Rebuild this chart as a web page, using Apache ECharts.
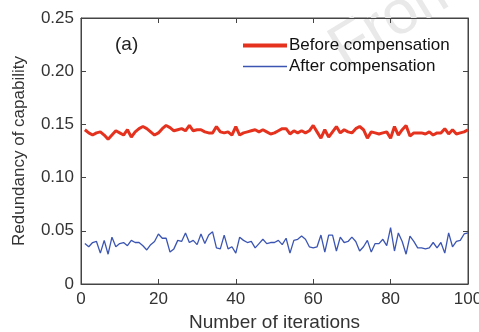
<!DOCTYPE html>
<html>
<head>
<meta charset="utf-8">
<script src="https://cdn.jsdelivr.net/npm/echarts@6/dist/echarts.min.js"></script>
<style>
  html, body { margin: 0; padding: 0; background: #fff; }
  #chart { width: 479px; height: 332px; }
</style>
</head>
<body>
<div id="chart"></div>
<script>
var iterations = [];
for (var i = 1; i <= 100; i++) iterations.push(i);

var beforeComp = [
  0.145, 0.142, 0.140, 0.142, 0.143, 0.140, 0.136, 0.140, 0.144, 0.142,
  0.140, 0.145, 0.138, 0.143, 0.146, 0.148, 0.146, 0.143, 0.140, 0.142,
  0.146, 0.149, 0.147, 0.144, 0.145, 0.146, 0.144, 0.149, 0.144, 0.145,
  0.145, 0.143, 0.142, 0.142, 0.148, 0.143, 0.142, 0.143, 0.140, 0.148,
  0.140, 0.142, 0.143, 0.144, 0.145, 0.143, 0.145, 0.143, 0.141, 0.142,
  0.144, 0.146, 0.146, 0.141, 0.144, 0.142, 0.144, 0.142, 0.144, 0.149,
  0.143, 0.137, 0.145, 0.138, 0.143, 0.148, 0.142, 0.145, 0.143, 0.142,
  0.146, 0.148, 0.145, 0.137, 0.143, 0.142, 0.141, 0.142, 0.143, 0.137,
  0.148, 0.140, 0.145, 0.149, 0.139, 0.142, 0.142, 0.142, 0.141, 0.143,
  0.140, 0.142, 0.142, 0.146, 0.141, 0.145, 0.141, 0.142, 0.143, 0.145
];

var afterComp = [
  0.038, 0.035, 0.039, 0.040, 0.029, 0.041, 0.028, 0.044, 0.035, 0.038,
  0.039, 0.036, 0.041, 0.039, 0.039, 0.036, 0.032, 0.037, 0.040, 0.047,
  0.043, 0.043, 0.030, 0.033, 0.041, 0.040, 0.048, 0.039, 0.041, 0.037,
  0.047, 0.038, 0.046, 0.049, 0.034, 0.033, 0.046, 0.033, 0.035, 0.029,
  0.044, 0.041, 0.039, 0.040, 0.034, 0.038, 0.042, 0.038, 0.039, 0.039,
  0.041, 0.037, 0.043, 0.029, 0.041, 0.042, 0.045, 0.042, 0.035, 0.034,
  0.035, 0.046, 0.030, 0.046, 0.046, 0.031, 0.044, 0.039, 0.040, 0.044,
  0.040, 0.031, 0.035, 0.041, 0.030, 0.038, 0.038, 0.042, 0.036, 0.053,
  0.031, 0.048, 0.040, 0.028, 0.045, 0.040, 0.034, 0.034, 0.033, 0.034,
  0.039, 0.034, 0.039, 0.029, 0.048, 0.035, 0.040, 0.041, 0.047, 0.048
];

var seriesNames = ['Before compensation', 'After compensation'];

function pairs(vals) {
  return iterations.map(function (x, k) { return [x, vals[k]]; });
}

var axisColor = '#444';
var font = 'Liberation Sans, Arial, sans-serif';

function frameX(pos) {
  return {
    type: 'value', min: 0, max: 100, interval: 20, position: pos,
    axisLine: { show: true, onZero: false, lineStyle: { color: axisColor, width: 1 } },
    axisTick: { show: true, inside: true, length: 5, lineStyle: { color: axisColor } },
    splitLine: { show: false }
  };
}
function frameY(pos) {
  return {
    type: 'value', min: 0, max: 0.25, interval: 0.05, position: pos,
    axisLine: { show: true, onZero: false, lineStyle: { color: axisColor, width: 1 } },
    axisTick: { show: true, inside: true, length: 5, lineStyle: { color: axisColor } },
    splitLine: { show: false }
  };
}

var xBottom = Object.assign(frameX('bottom'), {
  name: 'Number of iterations', nameLocation: 'middle', nameGap: 29,
  nameTextStyle: { fontSize: 19, color: '#333', fontFamily: font },
  axisLabel: { fontSize: 17, color: '#333', margin: 7, fontFamily: font }
});
var xTop = Object.assign(frameX('top'), { axisLabel: { show: false } });
var yLeft = Object.assign(frameY('left'), {
  name: 'Redundancy of capability', nameLocation: 'middle', nameGap: 53,
  nameTextStyle: { fontSize: 17, color: '#333', fontFamily: font },
  axisLabel: {
    fontSize: 17, color: '#333', margin: 7, fontFamily: font,
    formatter: function (v) { return v === 0 ? '0' : v.toFixed(2); }
  }
});
var yRight = Object.assign(frameY('right'), { axisLabel: { show: false } });

var option = {
  animation: false,
  backgroundColor: '#fff',
  textStyle: { fontFamily: font },
  grid: {
    left: 81, right: 11, top: 18, bottom: 48, containLabel: false,
    outerBoundsMode: 'none',
    show: true, borderColor: axisColor, borderWidth: 1, backgroundColor: 'transparent'
  },
  graphic: [
    {
      type: 'text', x: 352, y: 82, z: 0, rotation: 0.55,
      style: { text: 'From', font: '62px ' + font, fill: '#e9e9e9', verticalAlign: 'bottom' }
    },
    {
      type: 'text', left: 115, top: 35, z: 10,
      style: { text: '(a)', font: '19px ' + font, fill: '#222' }
    }
  ],
  legend: [
    {
      data: [seriesNames[0]], left: 238, top: 32, icon: 'rect',
      itemWidth: 44, itemHeight: 4, itemGap: 2,
      textStyle: { fontSize: 17, color: '#111', fontFamily: font, padding: [0, 0, 0, -3] }
    },
    {
      data: [seriesNames[1]], left: 238, top: 53, icon: 'rect',
      itemWidth: 44, itemHeight: 1.5, itemGap: 2,
      textStyle: { fontSize: 17, color: '#111', fontFamily: font, padding: [0, 0, 0, -3] }
    }
  ],
  xAxis: [xBottom, xTop],
  yAxis: [yLeft, yRight],
  series: [
    {
      name: seriesNames[0], type: 'line', data: pairs(beforeComp),
      xAxisIndex: 0, yAxisIndex: 0,
      symbol: 'none', color: '#e5321f',
      lineStyle: { width: 3, color: '#e5321f' }, z: 3
    },
    {
      name: seriesNames[1], type: 'line', data: pairs(afterComp),
      xAxisIndex: 1, yAxisIndex: 1,
      symbol: 'none', color: '#3b55b3',
      lineStyle: { width: 1.3, color: '#3b55b3' }, z: 3
    }
  ]
};

var chart = echarts.init(document.getElementById('chart'));
chart.setOption(option);
</script>
</body>
</html>
